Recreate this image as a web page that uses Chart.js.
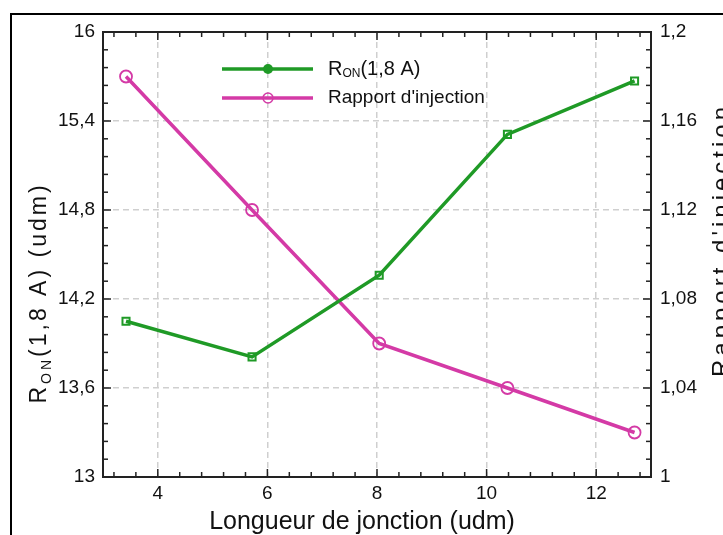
<!DOCTYPE html>
<html>
<head>
<meta charset="utf-8">
<script src="https://cdn.jsdelivr.net/npm/chart.js@4"></script>
<style>
  html, body { margin: 0; padding: 0; background: #fff; }
  #wrap { position: relative; width: 723px; height: 535px; overflow: hidden; }
  #frame { position: absolute; left: 10px; top: 13px; width: 800px; height: 600px;
           border-left: 2px solid #000; border-top: 2px solid #000; }
  canvas { position: absolute; left: 0; top: 0; }
</style>
</head>
<body>
<div id="wrap">
  <div id="frame"></div>
  <canvas id="myChart" width="723" height="535"></canvas>
</div>
<script>
// data
const lengths = [3.42, 5.72, 8.04, 10.38, 12.7];
const ronValues = [14.05, 13.81, 14.36, 15.31, 15.67];
const injectionRatio = [1.18, 1.12, 1.06, 1.04, 1.02];
const xTicks = [4, 6, 8, 10, 12];
const leftTicks = [13, 13.6, 14.2, 14.8, 15.4, 16];
const rightTicks = [1, 1.04, 1.08, 1.12, 1.16, 1.2];

const green = '#1f9a26';
const pink = '#d43aa6';
const fontFam = '"Liberation Sans", Arial, sans-serif';
const comma = v => String(v).replace('.', ',');

// draws R + subscript ON + rest, starting at x (baseline y)
function drawRon(ctx, x, y, size, rest) {
  ctx.font = size + 'px ' + fontFam;
  ctx.fillText('R', x, y);
  x += ctx.measureText('R').width;
  ctx.font = Math.round(size * 0.6) + 'px ' + fontFam;
  ctx.fillText('ON', x, y + size * 0.22);
  x += ctx.measureText('ON').width;
  ctx.font = size + 'px ' + fontFam;
  ctx.fillText(rest, x, y);
  return x + ctx.measureText(rest).width;
}

const decoPlugin = {
  id: 'deco',
  afterDraw(chart) {
    const { ctx, chartArea: a, scales } = chart;
    const x = scales.x, y = scales.y;
    ctx.save();
    ctx.strokeStyle = '#222';
    ctx.lineWidth = 1.5;
    const seg = (x1, y1, x2, y2) => { ctx.beginPath(); ctx.moveTo(x1, y1); ctx.lineTo(x2, y2); ctx.stroke(); };
    // minor / major ticks on x (every 0.4)
    for (let k = -2; k <= 22; k++) {
      const v = 4 + k * 0.4;
      if (v <= x.min + 0.01 || v >= x.max - 0.01) continue;
      const px = x.getPixelForValue(v);
      const len = k % 5 === 0 ? 8 : 5;
      seg(px, a.bottom, px, a.bottom - len);
      seg(px, a.top, px, a.top + len);
    }
    // minor / major ticks on y (every 0.12 on left scale)
    for (let k = 1; k < 25; k++) {
      const py = y.getPixelForValue(13 + k * 0.12);
      const len = k % 5 === 0 ? 8 : 5;
      seg(a.left, py, a.left + len, py);
      seg(a.right, py, a.right - len, py);
    }
    ctx.lineWidth = 2;
    ctx.strokeRect(a.left, a.top, a.right - a.left, a.bottom - a.top);

    // axis titles
    ctx.fillStyle = '#111';
    ctx.letterSpacing = '0px';
    ctx.textBaseline = 'alphabetic';
    ctx.textAlign = 'center';
    ctx.font = '25px ' + fontFam;
    ctx.fillText('Longueur de jonction (udm)', 362, 529);

    ctx.save();
    ctx.translate(46, 293);
    ctx.rotate(-Math.PI / 2);
    ctx.textAlign = 'left';
    ctx.letterSpacing = '3px';
    ctx.font = '23px ' + fontFam;
    let w = ctx.measureText('R').width + ctx.measureText('(1,8 A) (udm)').width;
    ctx.font = '14px ' + fontFam;
    w += ctx.measureText('ON').width;
    drawRon(ctx, -w / 2, 0, 23, '(1,8 A) (udm)');
    ctx.restore();

    ctx.save();
    ctx.translate(729, 240);
    ctx.rotate(-Math.PI / 2);
    ctx.textAlign = 'center';
    ctx.letterSpacing = '4px';
    ctx.font = '24px ' + fontFam;
    ctx.fillText("Rapport d'injection", 0, 0);
    ctx.restore();

    // legend
    ctx.letterSpacing = '0px';
    ctx.textAlign = 'left';
    ctx.textBaseline = 'middle';
    chart.data.datasets.forEach((ds, i) => {
      const ly = 69 + i * 29;
      ctx.strokeStyle = ds.borderColor;
      ctx.lineWidth = 3.5;
      seg(222, ly, 313, ly);
      ctx.beginPath();
      ctx.arc(268, ly, 5, 0, Math.PI * 2);
      if (i === 0) { ctx.fillStyle = ds.borderColor; ctx.fill(); }
      else { ctx.lineWidth = 1.5; ctx.stroke(); }
      ctx.fillStyle = '#111';
      if (i === 0) drawRon(ctx, 328, ly, 20, '(1,8 A)');
      else { ctx.font = '19px ' + fontFam; ctx.fillText(ds.label, 328, ly); }
    });
    ctx.restore();
  }
};

const tickFont = { family: fontFam, size: 19 };

new Chart(document.getElementById('myChart'), {
  type: 'line',
  data: {
    datasets: [
      {
        label: 'RON(1,8 A)',
        data: lengths.map((v, i) => ({ x: v, y: ronValues[i] })),
        borderColor: green,
        backgroundColor: green,
        borderWidth: 3.5,
        pointStyle: 'rect',
        pointRadius: 5,
        pointBorderWidth: 2,
        pointBackgroundColor: 'rgba(255,255,255,0)',
        yAxisID: 'y'
      },
      {
        label: "Rapport d'injection",
        data: lengths.map((v, i) => ({ x: v, y: injectionRatio[i] })),
        borderColor: pink,
        backgroundColor: pink,
        borderWidth: 3.5,
        pointStyle: 'circle',
        pointRadius: 6,
        pointBorderWidth: 1.8,
        pointBackgroundColor: 'rgba(255,255,255,0)',
        yAxisID: 'y1'
      }
    ]
  },
  options: {
    responsive: false,
    animation: false,
    layout: { padding: { top: 32 } },
    plugins: { legend: { display: false }, tooltip: { enabled: false } },
    scales: {
      x: {
        type: 'linear',
        min: 3,
        max: 13,
        afterBuildTicks: s => { s.ticks = xTicks.map(v => ({ value: v })); },
        afterFit: s => { s.height = 58; },
        ticks: { font: tickFont, color: '#111', padding: 5, maxRotation: 0 },
        grid: { color: '#cfcfcf', lineWidth: 1.5, drawTicks: false },
        border: { display: false, dash: [6, 4] }
      },
      y: {
        position: 'left',
        min: 13,
        max: 16,
        afterBuildTicks: s => { s.ticks = leftTicks.map(v => ({ value: v })); },
        afterFit: s => { s.width = 103; },
        ticks: { font: tickFont, color: '#111', padding: 8, callback: comma },
        grid: { color: '#cfcfcf', lineWidth: 1.5, drawTicks: false },
        border: { display: false, dash: [6, 4] }
      },
      y1: {
        position: 'right',
        min: 1,
        max: 1.2,
        afterBuildTicks: s => { s.ticks = rightTicks.map(v => ({ value: v })); },
        afterFit: s => { s.width = 72; },
        ticks: { font: tickFont, color: '#111', padding: 9, callback: comma },
        grid: { display: false, drawTicks: false },
        border: { display: false }
      }
    }
  },
  plugins: [decoPlugin]
});
</script>
</body>
</html>
